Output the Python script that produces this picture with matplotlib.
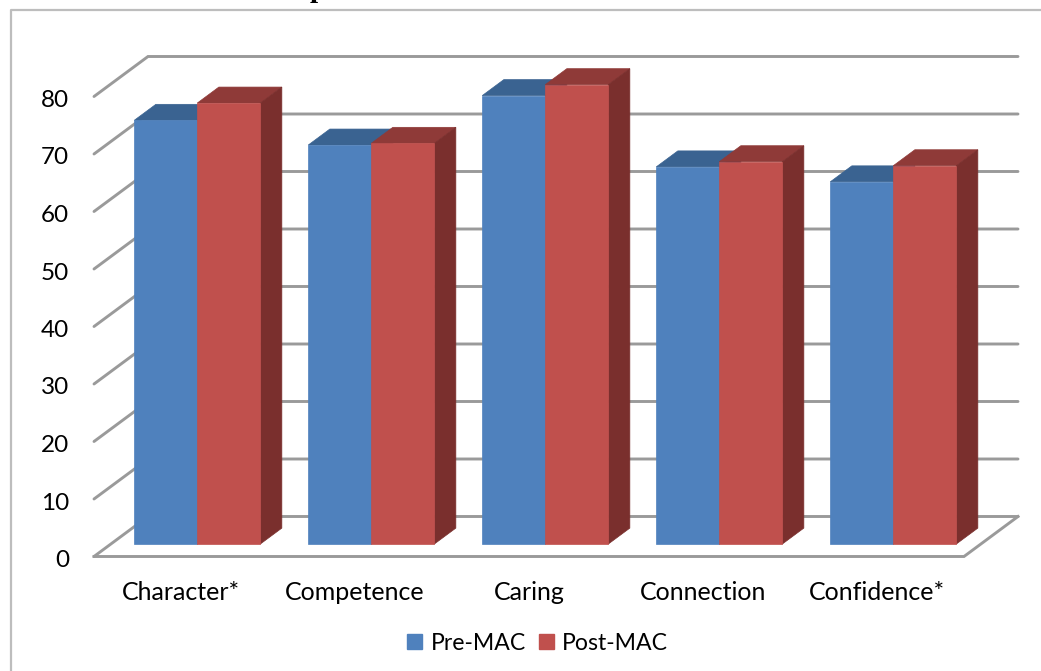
import matplotlib
matplotlib.use("Agg")
import matplotlib.pyplot as plt
from matplotlib.patches import Polygon, Patch
from matplotlib.transforms import ScaledTranslation

categories = ["Character*", "Competence", "Caring", "Connection", "Confidence*"]
pre_mac = [73.7, 69.4, 78.0, 65.6, 63.0]
post_mac = [76.7, 69.7, 79.9, 66.5, 65.8]
y_ticks = [0, 10, 20, 30, 40, 50, 60, 70, 80]

plt.rcParams["font.family"] = ["Lato", "DejaVu Sans"]

W, H = 1041, 671
fig = plt.figure(figsize=(W / 100, H / 100), dpi=100, facecolor="white")

# Axes span the front plane of the pseudo-3D box
left, right, bottom, top = 94, 964, 556.5, 96.5
ax = fig.add_axes([left / W, 1 - bottom / H, (right - left) / W, (bottom - top) / H])
ax.set_xlim(0, 5)
ax.set_ylim(0, 80)
ax.patch.set_visible(False)
for s in ax.spines.values():
    s.set_visible(False)

# Oblique shift for full depth of the box, in data units
DX = 54 / ((right - left) / 5)
DY = 40 / ((bottom - top) / 80)


def proj(x, y, d):
    return (x + d * DX, y + d * DY)


grid = "#9a9a9a"
lw = 2.1
for v in y_ticks:
    pts = [proj(0, v, 0), proj(0, v, 1), proj(5, v, 1)]
    ax.plot(*zip(*pts), color=grid, lw=lw, solid_capstyle="round",
            solid_joinstyle="miter", clip_on=False, zorder=1)
floor = [proj(0, 0, 0), proj(5, 0, 0), proj(5, 0, 1)]
ax.plot(*zip(*floor), color=grid, lw=lw, solid_joinstyle="miter",
        clip_on=False, zorder=1)

# Bars stand between these two depths
D0, D1 = 0.31, 0.71
BAR_W = 63 / ((right - left) / 5)
MARGIN = 23.5 / ((right - left) / 5)


def bar(x, value, front, topc, side, z):
    x0, x1 = x, x + BAR_W
    ax.add_patch(Polygon([proj(x0, 0, D0), proj(x1, 0, D0), proj(x1, value, D0), proj(x0, value, D0)],
                         facecolor=front, zorder=z + 0.2, edgecolor=front, lw=0.5, clip_on=False))
    ax.add_patch(Polygon([proj(x0, value, D0), proj(x1, value, D0), proj(x1, value, D1), proj(x0, value, D1)],
                         facecolor=topc, zorder=z, edgecolor=topc, lw=0.5, clip_on=False))
    ax.add_patch(Polygon([proj(x1, 0, D0), proj(x1, 0, D1), proj(x1, value, D1), proj(x1, value, D0)],
                         facecolor=side, zorder=z, edgecolor=side, lw=0.5, clip_on=False))


for i, (a, b) in enumerate(zip(pre_mac, post_mac)):
    x = i + MARGIN
    bar(x, a, "#4f81bd", "#3a6391", "#2f4f75", 3 + i)
    bar(x + BAR_W, b, "#c0504d", "#8f3a38", "#7a2f2d", 3.5 + i)

ax.set_xticks([i + 0.5 for i in range(5)], categories)
ax.set_yticks(y_ticks)
ax.tick_params(axis="both", length=0, labelcolor="#000000")
ax.tick_params(axis="y", pad=18, labelsize=17.5)
ax.tick_params(axis="x", pad=18, labelsize=18)
nudge = ScaledTranslation(0, -2 / 72 * 72 / 100, fig.dpi_scale_trans)
for lab in ax.get_yticklabels():
    lab.set_transform(lab.get_transform() + nudge)

# Chart area frame, open on the right and bottom edges of the page
frame = "#bdbdbd"
fig.add_artist(plt.Line2D([10.5 / W, 10.5 / W, 1], [0, 1 - 10 / H, 1 - 10 / H],
                          transform=fig.transFigure, color=frame, lw=1.6))

# Descender of the heading above the frame, cut by the page edge
fig.text(318 / W, 1 + 3 / H, "p", family="Liberation Serif", weight="bold",
         fontsize=21, ha="center", va="baseline", color="black")

handles = [Patch(color="#4f81bd", label="Pre-MAC"), Patch(color="#c0504d", label="Post-MAC")]
fig.legend(handles=handles, loc="center", bbox_to_anchor=(537.5 / W, 1 - 643 / H), ncol=2,
           frameon=False, fontsize=16.6, handlelength=0.65, handleheight=0.65,
           handletextpad=0.35, columnspacing=0.56, borderpad=0)

fig.savefig("out.png", dpi=100)
